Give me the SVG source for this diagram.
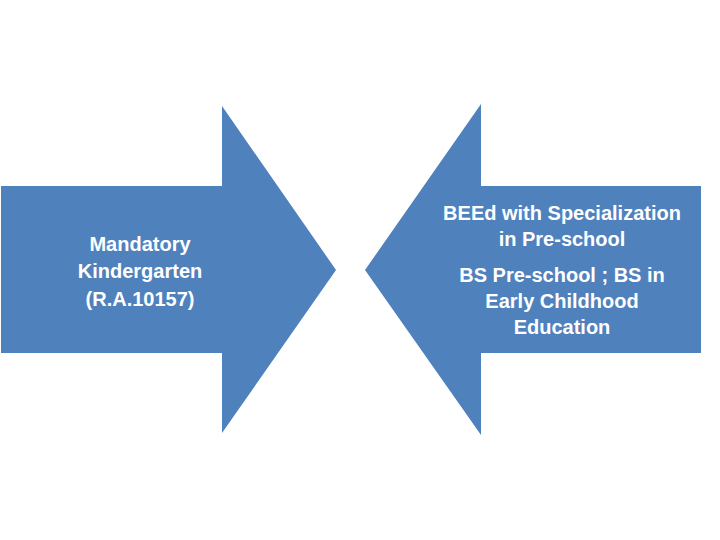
<svg xmlns="http://www.w3.org/2000/svg" width="720" height="540" viewBox="0 0 720 540">
<style>
.arrow{fill:#4F81BD;}
.lbl{fill:#FFFFFF;font-family:"Liberation Sans",Arial,sans-serif;font-size:20px;font-weight:bold;text-anchor:middle;}
</style>
<rect width="720" height="540" fill="#FFFFFF"/>
<g id="node-left">
<polygon class="arrow" points="1,186 222,186 222,106 336,270 222,433 222,353 1,353"/>
<text class="lbl" x="140" y="251">Mandatory</text>
<text class="lbl" x="140" y="278">Kindergarten</text>
<text class="lbl" x="140" y="306">(R.A.10157)</text>
</g>
<g id="node-right">
<polygon class="arrow" points="701,186 481,186 481,104 365,270 481,435 481,353 701,353"/>
<text class="lbl" x="562" y="220">BEEd with Specialization</text>
<text class="lbl" x="562" y="246">in Pre-school</text>
<text class="lbl" x="562" y="282">BS Pre-school ; BS in</text>
<text class="lbl" x="562" y="308">Early Childhood</text>
<text class="lbl" x="562" y="334">Education</text>
</g>
<g id="connectors"></g>
</svg>
